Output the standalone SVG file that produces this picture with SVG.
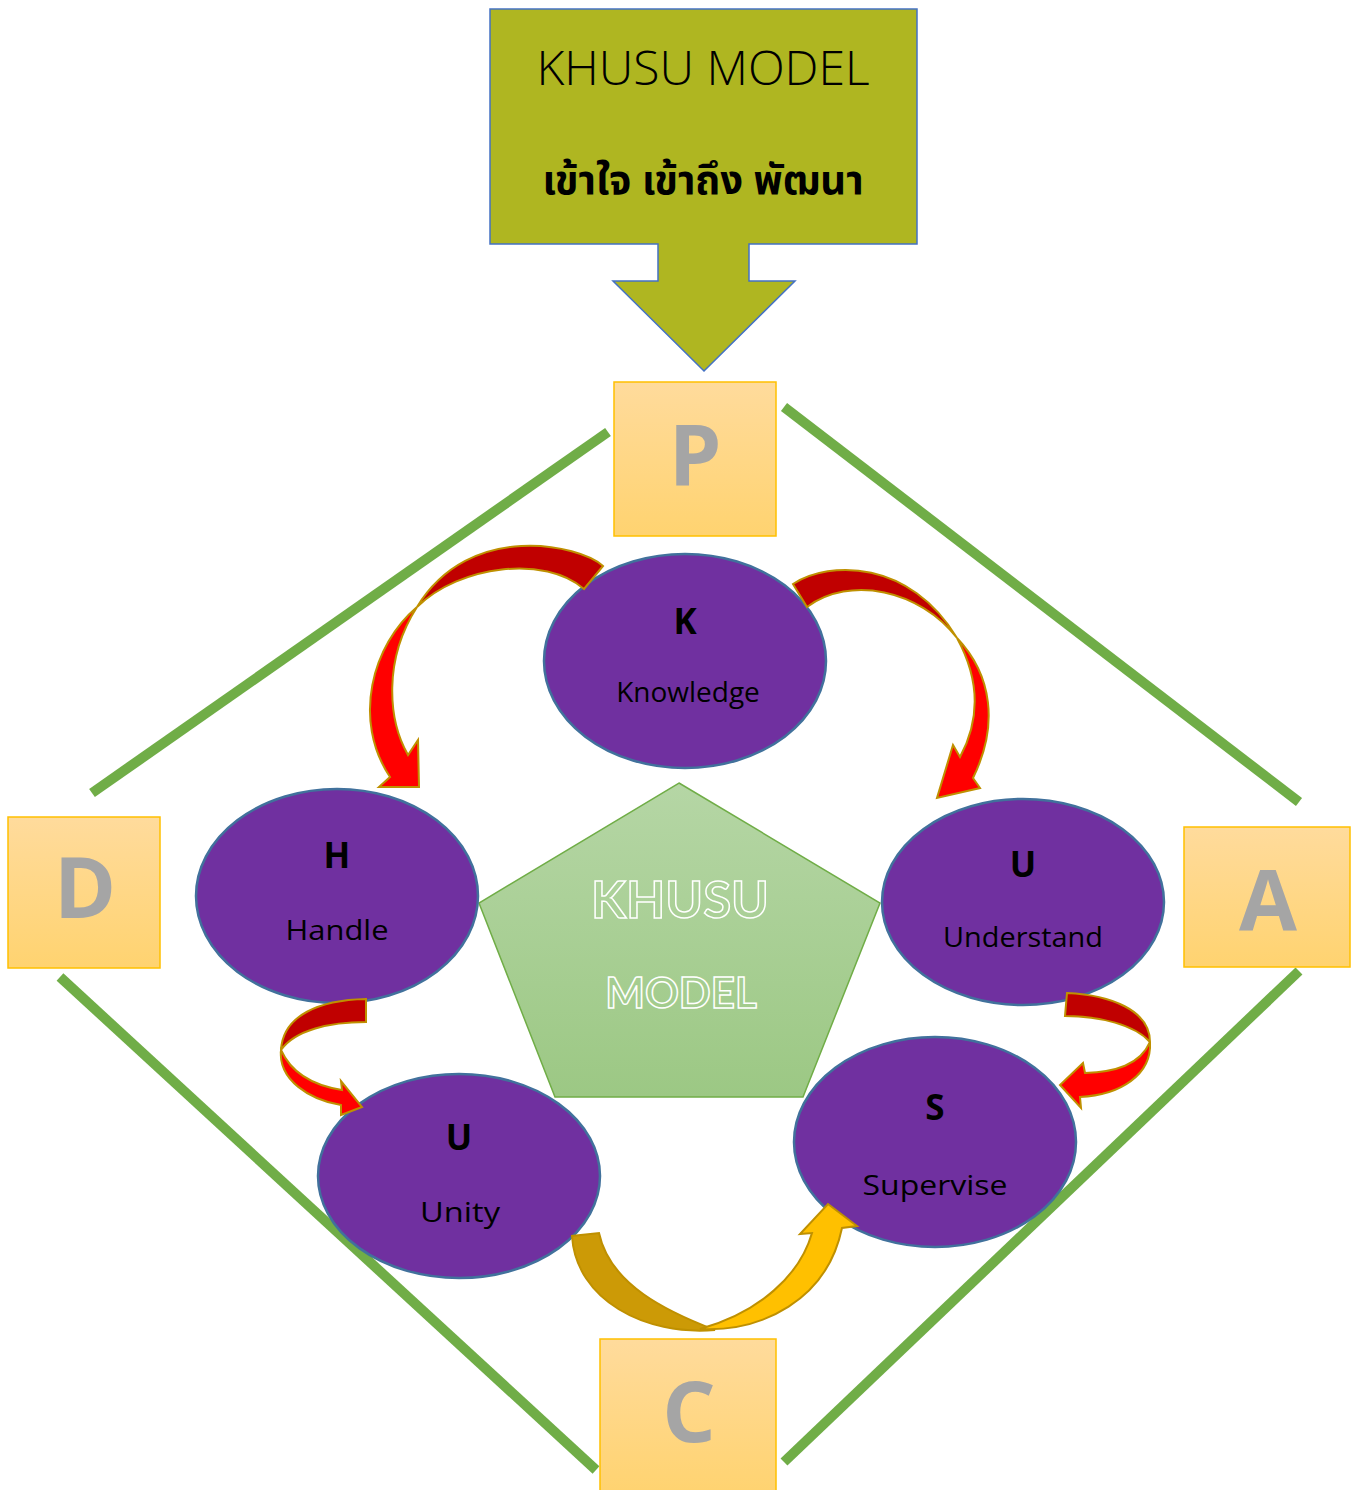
<svg xmlns="http://www.w3.org/2000/svg" width="1359" height="1490" viewBox="0 0 1359 1490">
<defs>
<linearGradient id="boxGrad" x1="0" y1="0" x2="0" y2="1">
<stop offset="0" stop-color="#FFDB9C"/>
<stop offset="1" stop-color="#FFD370"/>
</linearGradient>
<linearGradient id="pentGrad" x1="0" y1="0" x2="0" y2="1">
<stop offset="0" stop-color="#B5D6A5"/>
<stop offset="1" stop-color="#9CC884"/>
</linearGradient>
<style>
.line{stroke:#70AD47;stroke-width:10;fill:none}
.box{fill:url(#boxGrad);stroke:#FFC000;stroke-width:1.5}
.boxtxt{font-family:"Open Sans","Liberation Sans",sans-serif;font-weight:700;font-size:84px;fill:#A5A5A5;text-anchor:middle}
.ell{fill:#7030A0;stroke:#41719C;stroke-width:2.5}
.big{font-family:"Open Sans","Liberation Sans",sans-serif;font-weight:700;font-size:35px;fill:#000;text-anchor:middle}
.lbl{font-family:"Open Sans","Liberation Sans",sans-serif;font-size:28px;fill:#000;text-anchor:middle}
.dark{fill:#C00000;stroke:#BF9000;stroke-width:2;stroke-linejoin:miter}
.bright{fill:#FF0000;stroke:#BF9000;stroke-width:2;stroke-linejoin:miter}
.gdark{fill:#CC9A06;stroke:#BF9000;stroke-width:2}
.gbright{fill:#FFC000;stroke:#BF9000;stroke-width:2}
.outline{font-family:Lato,"Open Sans",sans-serif;font-weight:700;fill:none;stroke:#FFFFFF;stroke-width:1.5;text-anchor:middle}
</style>
</defs>

<g id="connectors">
<line class="line" x1="608" y1="432" x2="92" y2="793"/>
<line class="line" x1="784" y1="407" x2="1299" y2="802"/>
<line class="line" x1="60" y1="977" x2="596" y2="1470"/>
<line class="line" x1="1299" y1="971" x2="784" y2="1462"/>
</g>

<g id="title">
<path d="M490,9 H917 V244 H749 V281 H795 L704,371 L613,281 H658 V244 H490 Z" fill="#AFB621" stroke="#4472C4" stroke-width="1.5"/>
<text x="703" y="85" font-family="'Open Sans','Liberation Sans',sans-serif" font-weight="300" font-size="48" text-anchor="middle" fill="#000">KHUSU MODEL</text>
<text x="703" y="194" font-family="'Noto Sans','Noto Sans Thai','DejaVu Sans',sans-serif" font-weight="700" font-size="40" text-anchor="middle" fill="#000">เข้าใจ เข้าถึง พัฒนา</text>
</g>

<g id="box-P">
<rect class="box" x="614" y="382" width="162" height="154"/>
<text class="boxtxt" x="695" y="485">P</text>
</g>
<g id="box-D">
<rect class="box" x="8" y="817" width="152" height="151"/>
<text class="boxtxt" x="85" y="918">D</text>
</g>
<g id="box-A">
<rect class="box" x="1184" y="827" width="166" height="140"/>
<text class="boxtxt" x="1268" y="930">A</text>
</g>
<g id="box-C">
<rect class="box" x="600" y="1339" width="176" height="155"/>
<text class="boxtxt" x="689" y="1442">C</text>
</g>

<g id="center-pentagon">
<polygon points="679,783 880,903 803,1097 555,1097 479,903" fill="url(#pentGrad)" stroke="#70AD47" stroke-width="1.5"/>
<text class="outline" x="680" y="918" font-size="51">KHUSU</text>
<text class="outline" x="681" y="1008" font-size="42">MODEL</text>
</g>

<g id="node-K">
<ellipse class="ell" cx="685" cy="661" rx="141" ry="107"/>
<text class="big" x="685" y="634">K</text>
<text class="lbl" x="688" y="702">Knowledge</text>
</g>
<g id="node-H">
<ellipse class="ell" cx="337" cy="896" rx="141" ry="107"/>
<text class="big" x="337" y="868">H</text>
<text class="lbl" x="337" y="940" textLength="103" lengthAdjust="spacingAndGlyphs">Handle</text>
</g>
<g id="node-U1">
<ellipse class="ell" cx="1023" cy="902" rx="141" ry="103"/>
<text class="big" x="1023" y="877">U</text>
<text class="lbl" x="1023" y="947" textLength="160" lengthAdjust="spacingAndGlyphs">Understand</text>
</g>
<g id="node-U2">
<ellipse class="ell" cx="459" cy="1176" rx="141" ry="102"/>
<text class="big" x="459" y="1150">U</text>
<text class="lbl" x="460" y="1222" textLength="80" lengthAdjust="spacingAndGlyphs">Unity</text>
</g>
<g id="node-S">
<ellipse class="ell" cx="935" cy="1142" rx="141" ry="105"/>
<text class="big" x="935" y="1120">S</text>
<text class="lbl" x="935" y="1195" textLength="145" lengthAdjust="spacingAndGlyphs">Supervise</text>
</g>

<g id="arrows">
<!-- K to H -->
<path class="dark" d="M603,566 C580,545 470,520 417,607 C460,565 545,555 584,589 Z"/>
<path class="bright" d="M417,607 C372,645 352,720 390,777 L379,787 L419,787 L418,740 L408,755 C388,720 383,660 417,607 Z"/>
<!-- K to U -->
<path class="dark" d="M793,584 C830,560 910,560 957,638 C920,590 850,575 807,607 Z"/>
<path class="bright" d="M957,638 C992,675 999,725 973,778 L980,788 L937,798 L953,745 L960,757 C980,720 980,680 957,638 Z"/>
<!-- H to Unity -->
<path class="dark" d="M366,999 C320,1000 283,1015 281,1050 C295,1030 330,1022 366,1022 Z"/>
<path class="bright" d="M281,1050 C278,1080 310,1100 341,1105 L341,1115 L362,1107 L341,1081 L342,1090 C310,1085 290,1070 281,1050 Z"/>
<!-- U to S -->
<path class="dark" d="M1067,993 C1110,995 1150,1010 1150,1042 C1135,1025 1100,1016 1065,1016 Z"/>
<path class="bright" d="M1150,1042 C1152,1075 1120,1095 1080,1097 L1081,1108 L1060,1085 L1083,1063 L1085,1073 C1115,1072 1140,1065 1150,1042 Z"/>
<!-- Unity to S -->
<path class="gdark" d="M572,1236 C576,1300 645,1336 715,1330 C668,1312 610,1285 599,1233 Z"/>
<path class="gbright" d="M700,1329 C762,1332 827,1300 842,1228 L857,1226 L828,1204 L800,1234 L812,1233 C800,1275 760,1312 700,1329 Z"/>
</g>
</svg>
